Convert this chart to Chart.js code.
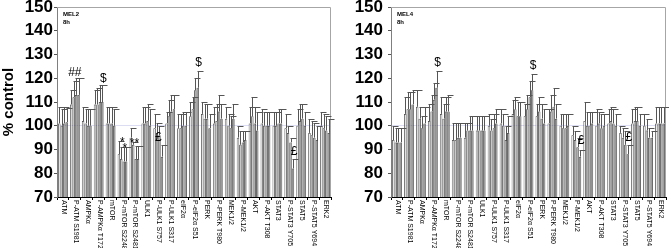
<!DOCTYPE html>
<html>
<head>
<meta charset="utf-8">
<script src="https://cdn.jsdelivr.net/npm/chart.js@4.4.1/dist/chart.umd.min.js"></script>
<style>
  html, body { margin: 0; padding: 0; background: #fff; }
  #wrap { position: relative; width: 669px; height: 248px; }
  #mel2 { position: absolute; left: 0; top: 0; }
  #mel4 { position: absolute; left: 336px; top: 0; }
</style>
</head>
<body>
<div id="wrap">
  <canvas id="mel2" width="336" height="248"></canvas>
  <canvas id="mel4" width="333" height="248"></canvas>
</div>
<script>
// categories (x axis)
const categories = ["ATM", "P-ATM S1981", "AMPKα", "P-AMPKα T172", "mTOR", "P-mTOR S2248",
  "P-mTOR S2481", "ULK1", "P-ULK1 S757", "P-ULK1 S317", "eIF2α", "P-eIF2α S51", "PERK",
  "P-PERK T980", "MEK1/2", "P-MEK1/2", "AKT", "P-AKT T308", "STAT3", "P-STAT3 Y705",
  "STAT5", "P-STAT5 Y694", "ERK2"];
const yTicks = [70, 80, 90, 100, 110, 120, 130, 140, 150];

// MEL2 8h - 4 bars per category, % control, + upper SD
const mel2S1 = [101, 109, 102, 109, 101, 88, 95, 101, 99, 101, 99, 104, 105, 101, 103, 95, 101, 101, 100, 99, 100, 97, 100];
const mel2S2 = [100, 112, 101, 109, 101, 86, 92, 101, 97, 104, 99, 107, 103, 102, 100, 92, 104, 100, 100, 97, 102, 96, 99];
const mel2S3 = [101, 113, 100, 110, 101, 85, 86, 102, 96, 106, 100, 115, 103, 106, 99, 93, 101, 100, 101, 93, 103, 95, 98];
const mel2S4 = [101.5, 113, 100, 110, 100, 85, 86, 100, 87, 107, 100, 116, 99, 103, 103, 94, 98, 100, 101, 82, 100, 94, 97];
const mel2E1 = [7, 6, 6, 6, 7, 5.5, 4, 7, 6, 5, 6, 6, 5, 7, 5, 5, 7, 6, 6, 6, 7, 6, 6];
const mel2E2 = [7, 7, 6, 7, 7, 5, 1, 7, 4, 7, 6, 5, 6, 7, 5, 6, 8, 6, 6, 3, 7, 6, 6];
const mel2E3 = [7, 7, 7, 7, 7, 6, 5.5, 7, 4, 7, 6, 5, 6, 7, 5, 5, 7, 6, 6, 2, 6, 6, 6];
const mel2E4 = [6, 7, 7, 7, 7, 6, 5.5, 7, 5, 6, 6, 7, 6, 6, 6, 4, 8, 6, 6, 4, 6, 6, 6];

// MEL4 8h
const mel4S1 = [94, 105, 108, 102, 105, 94, 95, 98, 100, 101, 105, 104, 104, 101, 100, 96, 102, 100, 101, 97, 101, 100, 101];
const mel4S2 = [93, 107, 103, 106, 103, 94, 98, 98, 98, 100, 107, 107, 106, 106, 99, 94, 100, 101, 102, 95, 102, 98, 101];
const mel4S3 = [93, 107, 99, 111, 106, 95, 98, 98, 99, 94, 104, 112, 103, 108, 99, 91, 100, 99, 101, 92, 102, 95, 101];
const mel4S4 = [93, 109, 101, 116, 106, 95, 98, 98, 101, 97, 104, 115, 101, 103, 100, 87, 101, 100, 100, 88, 100, 95, 101];
const mel4E1 = [6, 7, 7, 7, 7, 7, 6, 6, 5, 6, 6, 5, 5, 6, 5, 4, 8, 7, 6, 3, 6, 5, 7];
const mel4E2 = [6, 7, 5, 7, 6, 7, 3, 6, 5, 5, 5, 6, 6, 7, 6, 4, 6, 5, 6, 4, 6, 5, 7];
const mel4E3 = [6, 7, 5, 7, 6, 6, 6, 6, 6, 6, 6, 7, 6, 8, 6, 4, 6, 6, 6, 6, 6, 4, 7];
const mel4E4 = [6, 6, 7, 7, 7, 6, 6, 6, 6, 7, 6, 7, 6, 6, 5, 3, 5, 5, 5, 4, 5, 3, 7];

// significance marks: category, bar (null = category centre), value, symbol
const mel2Marks = [
  ["P-ATM S1981", null, 122.5, "##"],
  ["P-AMPKα T172", 3, 120, "$"],
  ["P-mTOR S2248", 1, 93, "*"],
  ["P-mTOR S2481", null, 92.5, "**"],
  ["P-mTOR S2248", 2, 90.5, "*"],
  ["P-ULK1 S757", null, 94.8, "£"],
  ["P-eIF2α S51", 3, 126.4, "$"],
  ["P-STAT3 Y705", 3, 89.2, "£"]
];
const mel4Marks = [
  ["P-AMPKα T172", 3, 126.4, "$"],
  ["P-eIF2α S51", 3, 125.3, "$"],
  ["P-MEK1/2", 3, 93.8, "£"],
  ["P-STAT3 Y705", 3, 94.8, "£"]
];

const fills = ["#f0f0f0", "#c4c4c4", "#a8a8a8", "#8f8f8f"];
const FONT = "'Liberation Sans', Arial, sans-serif";

// upper error bars, category labels read top-down, panel tag, marks, frame
const decor = {
  id: "decor",
  beforeDatasetsDraw(chart) {
    const a = chart.chartArea, ctx = chart.ctx;
    ctx.save();
    ctx.strokeStyle = "#a6a6a6";
    ctx.lineWidth = 1;
    ctx.beginPath();
    ctx.moveTo(a.left, a.top + 0.5);
    ctx.lineTo(a.right - 0.5, a.top + 0.5);
    ctx.lineTo(a.right - 0.5, a.bottom);
    ctx.stroke();
    ctx.restore();
  },
  afterDatasetsDraw(chart, args, opts) {
    const ctx = chart.ctx, y = chart.scales.y, x = chart.scales.x, a = chart.chartArea;
    ctx.save();
    ctx.strokeStyle = "#555";
    ctx.lineWidth = 1;
    chart.data.datasets.forEach((ds, i) => {
      chart.getDatasetMeta(i).data.forEach((bar, j) => {
        const top = Math.round(y.getPixelForValue(ds.data[j] + ds.errors[j])) + 0.5;
        const px = Math.round(bar.x) + 0.5;
        ctx.beginPath();
        ctx.moveTo(px, bar.y);
        ctx.lineTo(px, top);
        ctx.moveTo(px - 1, top);
        ctx.lineTo(px + 5, top);
        ctx.stroke();
      });
    });

    // category labels, rotated clockwise
    ctx.fillStyle = "#000";
    ctx.font = "7px " + FONT;
    ctx.textAlign = "left";
    ctx.textBaseline = "middle";
    categories.forEach((c, i) => {
      ctx.save();
      ctx.translate(x.getPixelForTick(i) + 1, a.bottom + 3);
      ctx.rotate(Math.PI / 2);
      ctx.fillText(c, 0, 0);
      ctx.restore();
    });

    // panel tag
    ctx.font = "bold 6px " + FONT;
    ctx.textBaseline = "alphabetic";
    ctx.fillText(opts.tag, a.left + 6, a.top + 9);
    ctx.fillText("8h", a.left + 6, a.top + 17);

    // significance marks
    ctx.font = "12px " + FONT;
    ctx.textAlign = "center";
    ctx.textBaseline = "middle";
    opts.marks.forEach(m => {
      const ci = categories.indexOf(m[0]);
      const px = m[1] === null ? x.getPixelForValue(ci) : chart.getDatasetMeta(m[1]).data[ci].x + 1;
      ctx.fillText(m[3], px, y.getPixelForValue(m[2]));
    });
    ctx.restore();
  }
};

function makePanel(id, series, errs, tag, marks, axisWidth, showTitle, padRight) {
  new Chart(document.getElementById(id), {
    type: "bar",
    data: {
      labels: categories,
      datasets: series.map((s, i) => ({
        data: s,
        errors: errs[i],
        backgroundColor: fills[i],
        borderColor: "#3a3a3a",
        borderWidth: 0.8,
        borderSkipped: "bottom",
        categoryPercentage: 0.82,
        barPercentage: 1.0
      }))
    },
    options: {
      responsive: false,
      animation: false,
      layout: { padding: { top: 7, right: padRight, bottom: 0, left: 0 } },
      plugins: {
        legend: { display: false },
        tooltip: { enabled: false },
        decor: { tag: tag, marks: marks }
      },
      scales: {
        x: {
          ticks: { display: false },
          grid: { display: true, drawOnChartArea: false, drawTicks: true, tickLength: 3, tickColor: "#000" },
          border: { color: "#000", width: 1 },
          afterFit(s) { s.height = 51; }
        },
        y: {
          min: 70,
          max: 150,
          afterBuildTicks(s) { s.ticks = yTicks.map(v => ({ value: v })); },
          ticks: {
            font: { family: FONT, size: 17, weight: "bold" },
            color: "#000",
            padding: showTitle ? 1 : 5
          },
          grid: {
            color: c => (c.tick && c.tick.value === 100 ? "#dcdcf2" : "rgba(0,0,0,0)"),
            tickColor: "#555",
            tickLength: 3
          },
          border: { color: "#7f7f7f", width: 1 },
          title: {
            display: showTitle,
            text: "% control",
            color: "#000",
            font: { family: FONT, size: 15, weight: "bold" },
            padding: { top: 0, bottom: 0 }
          },
          afterFit(s) { s.width = axisWidth; s.paddingTop = 7; s.paddingBottom = 0; }
        }
      }
    },
    plugins: [decor]
  });
}

makePanel("mel2", [mel2S1, mel2S2, mel2S3, mel2S4], [mel2E1, mel2E2, mel2E3, mel2E4], "MEL2", mel2Marks, 57, true, 5);
makePanel("mel4", [mel4S1, mel4S2, mel4S3, mel4S4], [mel4E1, mel4E2, mel4E3, mel4E4], "MEL4", mel4Marks, 55, false, 3);
</script>
</body>
</html>
